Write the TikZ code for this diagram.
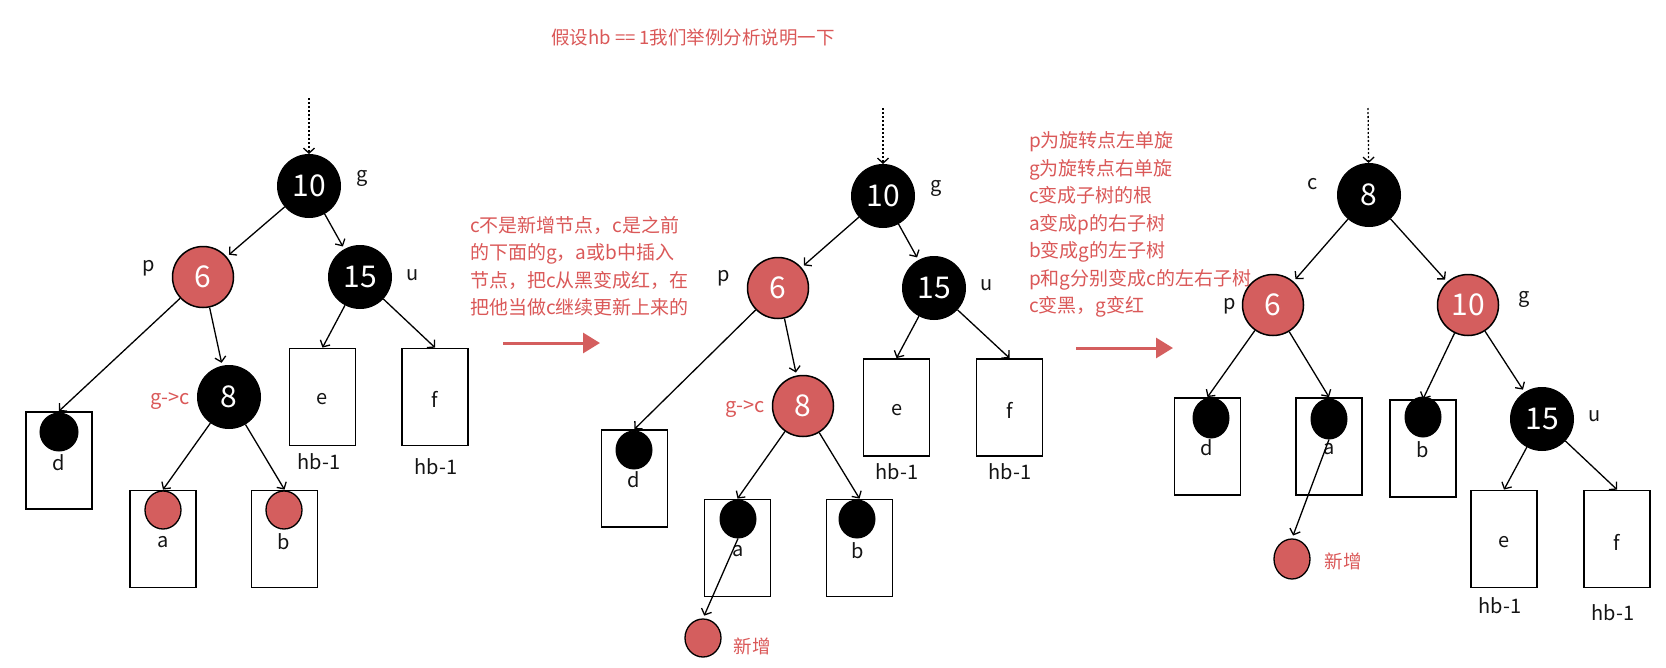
\documentclass[tikz,border=0pt]{standalone}
\usepackage{fontspec}
\setmainfont{Noto Sans CJK SC}
\usetikzlibrary{arrows.meta,shapes.geometric}
\definecolor{rbred}{RGB}{212,94,94}
\definecolor{rbtext}{RGB}{218,88,88}
\definecolor{ink}{RGB}{20,20,20}
\begin{document}
\begin{tikzpicture}[x=1pt,y=-1pt,
  bn/.style={circle,fill=black,draw=black,line width=1pt,minimum size=63pt,inner sep=0pt,text=white,font=\fontsize{30}{30}\selectfont},
  rn/.style={circle,fill=rbred,draw=black,line width=1.5pt,minimum size=61pt,inner sep=0pt,text=white,font=\fontsize{30}{30}\selectfont},
  leaf/.style={draw=black,line width=1.8pt,minimum width=66pt,minimum height=97pt,inner sep=0pt},
  bdot/.style={ellipse,fill=black,draw=black,line width=1pt,minimum width=36pt,minimum height=38pt,inner sep=0pt},
  rdot/.style={ellipse,fill=rbred,draw=black,line width=1.3pt,minimum width=36pt,minimum height=38pt,inner sep=0pt},
  lbl/.style={text=ink,inner sep=0pt,font=\fontsize{20}{20}\selectfont},
  rlbl/.style={text=rbtext,inner sep=0pt,font=\fontsize{19}{19}\selectfont},
  rpara/.style={text=rbtext,inner sep=0pt,align=left,anchor=west,font=\fontsize{19}{27.5}\selectfont},
  conn/.style={-{Straight Barb[length=5pt,width=11pt]},line width=1.3pt,draw=black},
  dotconn/.style={conn,dash pattern=on 2pt off 2pt},
  redarrow/.style={-{Triangle[length=17pt,width=20pt]},line width=3pt,draw=rbred}
]
\useasboundingbox (0,0) rectangle (1666,667);

% ---------- texts ----------
\node[rlbl,anchor=west,font=\fontsize{18.5}{18.5}\selectfont] (title) at (551,37) {假设hb == 1我们举例分析说明一下};
\node[rpara] (txt1) at (470,266) {c不是新增节点，c是之前\\的下面的g，a或b中插入\\节点，把c从黑变成红，在\\把他当做c继续更新上来的};
\node[rpara] (txt2) at (1029,224.5) {p为旋转点左单旋\\g为旋转点右单旋\\c变成子树的根\\a变成p的右子树\\b变成g的左子树\\p和g分别变成c的左右子树\\c变黑，g变红};

\coordinate (ra1s) at (503,343);
\coordinate (ra1e) at (600,343);
\draw[redarrow] (ra1s) -- (ra1e);
\coordinate (ra2s) at (1076,348);
\coordinate (ra2e) at (1173,348);
\draw[redarrow] (ra2s) -- (ra2e);

% ---------- panel 1 ----------
\coordinate (top1) at (309,98);
\node[bn] (g1) at (309,186) {10};
\node[lbl] (lg1) at (362,178) {g};
\node[rn] (p1) at (203,277) {6};
\node[lbl] (lp1) at (149,268) {p};
\node[bn] (u1) at (360,277) {15};
\node[lbl] (lu1) at (413,275) {u};
\node[bn] (c1) at (229,397) {8};
\node[rlbl,font=\fontsize{20}{20}\selectfont] (lc1) at (170,401) {g->c};
\node[leaf] (d1) at (59,460.5) {};
\node[bdot,minimum width=38pt] (cd1) at (59,432) {};
\node[lbl] (td1) at (59,463) {d};
\node[leaf] (a1) at (163,539) {};
\node[rdot] (ca1) at (163,510) {};
\node[lbl] (ta1) at (163,542) {a};
\node[leaf] (b1) at (284.5,539) {};
\node[rdot] (cb1) at (284,510) {};
\node[lbl] (tb1) at (284,542) {b};
\node[leaf] (e1) at (322.5,397) {};
\node[lbl] (te1) at (322,399) {e};
\node[lbl] (he1) at (319,462) {hb-1};
\node[leaf] (f1) at (435,397) {};
\node[lbl] (tf1) at (435,399) {f};
\node[lbl] (hf1) at (436,467) {hb-1};

\draw[dotconn] (top1) -- (g1);
\draw[conn,shorten >=3pt] (g1) -- (p1);
\draw[conn,shorten >=3pt] (g1) -- (u1);
\draw[conn] (p1) -- (d1.north);
\draw[conn,shorten >=3pt] (p1) -- (c1);
\draw[conn] (c1) -- (a1.north);
\draw[conn] (c1) -- (b1.north);
\draw[conn] (u1) -- (e1.north);
\draw[conn] (u1) -- (f1.north);

% ---------- panel 2 ----------
\coordinate (top2) at (883,108);
\node[bn] (g2) at (883,196) {10};
\node[lbl] (lg2) at (936,188) {g};
\node[rn] (p2) at (778,288) {6};
\node[lbl] (lp2) at (724,278) {p};
\node[bn] (u2) at (934,288) {15};
\node[lbl] (lu2) at (987,285) {u};
\node[rn] (c2) at (803,406) {8};
\node[rlbl,font=\fontsize{20}{20}\selectfont] (lc2) at (745,409) {g->c};
\node[leaf] (d2) at (634.5,478.5) {};
\node[bdot] (cd2) at (634,450) {};
\node[lbl] (td2) at (634,480) {d};
\node[leaf] (a2) at (737.5,548) {};
\node[bdot] (ca2) at (738,519) {};
\node[lbl] (ta2) at (738,551) {a};
\node[leaf] (b2) at (859.5,548) {};
\node[bdot] (cb2) at (857,519) {};
\node[lbl] (tb2) at (858,551) {b};
\node[leaf] (e2) at (896.5,407.5) {};
\node[lbl] (te2) at (897,410) {e};
\node[lbl] (he2) at (897,472) {hb-1};
\node[leaf] (f2) at (1009.5,407.5) {};
\node[lbl] (tf2) at (1010,410) {f};
\node[lbl] (hf2) at (1010,472) {hb-1};
\node[rdot] (n2) at (703,638) {};
\node[rlbl,font=\fontsize{18.5}{18.5}\selectfont] (tn2) at (752,646) {新增};

\draw[dotconn] (top2) -- (g2);
\draw[conn,shorten >=3pt] (g2) -- (p2);
\draw[conn,shorten >=3pt] (g2) -- (u2);
\draw[conn] (p2) -- (d2.north);
\draw[conn,shorten >=3pt] (p2) -- (c2);
\draw[conn] (c2) -- (a2.north);
\draw[conn] (c2) -- (b2.north);
\draw[conn] (u2) -- (e2.north);
\draw[conn] (u2) -- (f2.north);
\draw[conn,shorten >=3pt] (ca2.south) -- (n2.north);

% ---------- panel 3 ----------
\coordinate (top3) at (1368,108);
\node[bn] (c3) at (1369,195) {8};
\node[lbl] (lc3) at (1313,184) {c};
\node[rn] (p3) at (1273,305) {6};
\node[lbl] (lp3) at (1230,306) {p};
\node[rn] (g3) at (1468,305) {10};
\node[lbl] (lg3) at (1524,299) {g};
\node[leaf] (d3) at (1207.5,446.5) {};
\node[bdot,minimum height=40pt] (cd3) at (1211,418) {};
\node[lbl] (td3) at (1207,448) {d};
\node[leaf] (a3) at (1329,446.5) {};
\node[bdot,minimum height=40pt] (ca3) at (1329,419) {};
\node[lbl] (ta3) at (1329,449) {a};
\node[leaf] (b3) at (1423,448.5) {};
\node[bdot,minimum height=40pt] (cb3) at (1423,417) {};
\node[lbl] (tb3) at (1423,450) {b};
\node[bn] (u3) at (1542,419) {15};
\node[lbl] (lu3) at (1595,416) {u};
\node[leaf] (e3) at (1504,539) {};
\node[lbl] (te3) at (1504,542) {e};
\node[lbl] (he3) at (1500,606) {hb-1};
\node[leaf] (f3) at (1617,539) {};
\node[lbl] (tf3) at (1617,542) {f};
\node[lbl] (hf3) at (1613,613) {hb-1};
\node[rdot,minimum height=40pt] (n3) at (1292,559) {};
\node[rlbl,font=\fontsize{18.5}{18.5}\selectfont] (tn3) at (1343,561) {新增};

\draw[dotconn] (top3) -- (c3);
\draw[conn,shorten >=3pt] (c3) -- (p3);
\draw[conn,shorten >=3pt] (c3) -- (g3);
\draw[conn] (p3) -- (d3.north);
\draw[conn] (p3) -- (a3.north);
\draw[conn] (g3) -- (b3.north);
\draw[conn,shorten >=3pt] (g3) -- (u3);
\draw[conn] (u3) -- (e3.north);
\draw[conn] (u3) -- (f3.north);
\draw[conn,shorten >=3pt] (ca3.south) -- (n3.north);
\end{tikzpicture}
\end{document}
